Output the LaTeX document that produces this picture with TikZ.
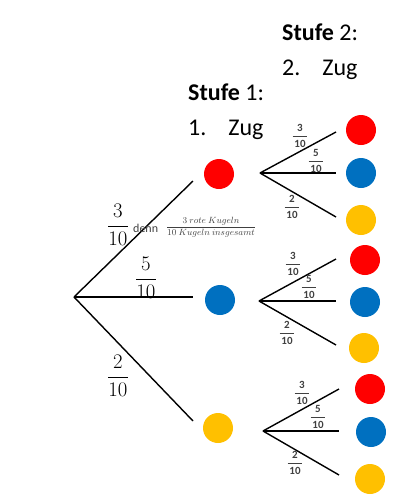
\documentclass[tikz,border=0pt]{standalone}
\usepackage{fontspec}
\setmainfont{Carlito}
\definecolor{cred}{HTML}{FF0000}
\definecolor{cblue}{HTML}{0070C0}
\definecolor{cyellow}{HTML}{FFC000}
\definecolor{fracgray}{HTML}{404040}
\newcommand\bigfr[2]{\fontsize{20}{24}\selectfont$\displaystyle\frac{#1}{#2}$}
\newcommand\smfr[2]{\fontsize{11}{12}\selectfont\color{fracgray}$\displaystyle\frac{\textbf{#1}\rule[-2pt]{0pt}{2pt}}{\rule{0pt}{9.5pt}\,\textbf{#2}\,}$}
\begin{document}
\begin{tikzpicture}[x=1pt,y=-1pt,
  ball/.style={circle,minimum size=30pt,inner sep=0pt,fill=#1},
  branch/.style={line width=1.4pt,black},
  head/.style={anchor=base west,inner sep=0pt,font=\fontsize{24}{28}\selectfont},
  fr/.style={inner sep=0pt}]
\useasboundingbox (0,0) rectangle (400,504);
% headers
\node[head] (s2) at (282,40) {\textbf{Stufe} 2:};
\node[head] (z2) at (282,75) {2.\hspace{22pt}Zug};
\node[head] (s1) at (188,100) {\textbf{Stufe} 1:};
\node[head] (z1) at (188,135) {1.\hspace{22pt}Zug};
% level 1
\coordinate (r) at (74,297);
\coordinate (e1) at (193,181);
\coordinate (e2) at (193,297);
\coordinate (e3) at (193,421);
\draw[branch] (r) -- (e1);
\draw[branch] (r) -- (e2);
\draw[branch] (r) -- (e3);
\node[ball=cred] (b1) at (219,174) {};
\node[ball=cblue] (b2) at (220,300) {};
\node[ball=cyellow] (b3) at (218,428) {};
\node[fr] (f1) at (118,225) {\bigfr{3}{10}};
\node[fr] (f2) at (146,278) {\bigfr{5}{10}};
\node[fr] (f3) at (118,376) {\bigfr{2}{10}};
\node[fr,anchor=west] (denn) at (133,228) {\fontsize{12}{13}\selectfont\color{fracgray}denn};
\node[fr] (expl) at (211,227) {\fontsize{9.5}{11}\selectfont\color{fracgray}$\displaystyle\frac{3\ rote\ Kugeln}{10\ Kugeln\ insgesamt}$};
% level 2, top group
\coordinate (ta) at (260,173);
\coordinate (ta1) at (336,132);
\coordinate (ta2) at (336,173);
\coordinate (ta3) at (336,217);
\draw[branch] (ta) -- (ta1);
\draw[branch] (ta) -- (ta2);
\draw[branch] (ta) -- (ta3);
\node[ball=cred] (tb1) at (361,130) {};
\node[ball=cblue] (tb2) at (361,173) {};
\node[ball=cyellow] (tb3) at (361,220) {};
\node[fr] (tf1) at (300,136) {\smfr{3}{10}};
\node[fr] (tf2) at (316,161) {\smfr{5}{10}};
\node[fr] (tf3) at (292,207) {\smfr{2}{10}};
% level 2, middle group
\coordinate (ma) at (259,301);
\coordinate (ma1) at (336,259);
\coordinate (ma2) at (336,301);
\coordinate (ma3) at (336,345);
\draw[branch] (ma) -- (ma1);
\draw[branch] (ma) -- (ma2);
\draw[branch] (ma) -- (ma3);
\node[ball=cred] (mb1) at (365,260) {};
\node[ball=cblue] (mb2) at (365,302) {};
\node[ball=cyellow] (mb3) at (364,348) {};
\node[fr] (mf1) at (293,264) {\smfr{3}{10}};
\node[fr] (mf2) at (309,287) {\smfr{5}{10}};
\node[fr] (mf3) at (287,333) {\smfr{2}{10}};
% level 2, bottom group
\coordinate (ba) at (263,431);
\coordinate (ba1) at (339,389);
\coordinate (ba2) at (339,431);
\coordinate (ba3) at (339,475);
\draw[branch] (ba) -- (ba1);
\draw[branch] (ba) -- (ba2);
\draw[branch] (ba) -- (ba3);
\node[ball=cred] (bb1) at (370,389) {};
\node[ball=cblue] (bb2) at (371,432) {};
\node[ball=cyellow] (bb3) at (370,479) {};
\node[fr] (bf1) at (302,393) {\smfr{3}{10}};
\node[fr] (bf2) at (318,417) {\smfr{5}{10}};
\node[fr] (bf3) at (295,463) {\smfr{2}{10}};
\end{tikzpicture}
\end{document}
